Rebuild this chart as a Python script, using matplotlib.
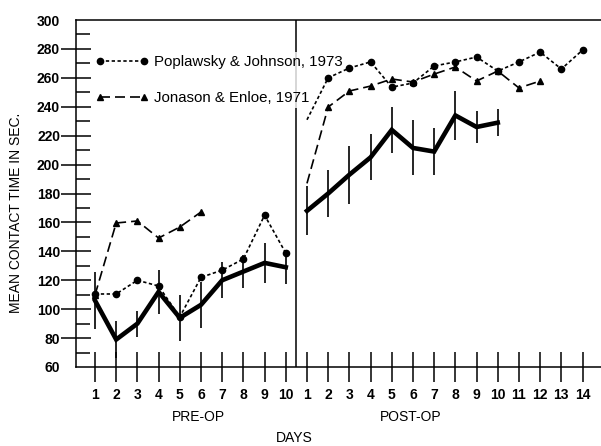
import matplotlib
matplotlib.use('Agg')
import matplotlib.pyplot as plt
from matplotlib.lines import Line2D
from matplotlib.ticker import MultipleLocator
import numpy as np

plt.rcParams['font.family'] = ['Liberation Sans', 'DejaVu Sans']

# jours (pré- et post-opératoires)
pre_days = list(range(1, 11))
post_days = list(range(1, 15))

# groupe principal (trait épais + barres d'erreur)
main_pre = [106, 79, 90, 112, 94, 103, 120, 126, 132, 129]
main_pre_err = [20, 13, 9, 15, 16, 16, 12.5, 11.5, 14, 11.5]
main_post = [168, 180, 193, 205, 224, 211.5, 209, 234, 226, 229]
main_post_err = [17, 16, 20, 16, 16, 19, 16, 17, 11, 9.5]

# Poplawsky & Johnson, 1973
poplawsky_pre = [110.5, 110.5, 120, 116, 94.6, 122, 127, 134.7, 165, 138.8]
poplawsky_post = [231, 260, 266.8, 271, 253.6, 256.4, 268.2, 271, 274.4,
                  264.7, 271, 277.8, 266.1, 279.2]

# Jonason & Enloe, 1971
jonason_pre = [109.8, 159.6, 161, 149.2, 156.8, 167.2]
jonason_post = [187, 239.8, 250.9, 254.3, 259.2, 257.1, 262.6, 267.5, 257.8,
                264.7, 253, 257.8]

tick_labels = [str(d) for d in pre_days] + [str(d) for d in post_days]

# positions continues sur l'axe x
x_pre = np.array(pre_days)
x_post = np.array(post_days) + len(pre_days)

fig = plt.figure(figsize=(6.01, 4.46), dpi=100)
ax = fig.add_axes([76 / 601, 1 - 367 / 446, 1 - 76 / 601, 347 / 446])

pop_style = dict(color='black', lw=1.2, dashes=(2, 1.5), marker='o', ms=4.5)
jon_style = dict(color='black', lw=1.2, dashes=(6, 3), marker='^', ms=3.8)

ax.plot(x_pre, poplawsky_pre, **pop_style, zorder=3)
ax.plot(x_post, poplawsky_post, markevery=slice(1, None), **pop_style, zorder=3)
ax.plot(x_pre[:len(jonason_pre)], jonason_pre, **jon_style, zorder=3)
ax.plot(x_post[:len(jonason_post)], jonason_post, markevery=slice(1, None),
        **jon_style, zorder=3)

# trait épais avec barres d'erreur
for xs, ys, es in [(x_pre, main_pre, main_pre_err),
                   (x_post[:len(main_post)], main_post, main_post_err)]:
    ax.errorbar(xs, ys, yerr=es, color='black', lw=3.3, elinewidth=1.2,
                capsize=0, solid_joinstyle='miter', zorder=4)

# séparation pré/post
ax.axvline(len(pre_days) + 0.5, color='black', lw=1.1, zorder=2)

ax.set_xlim(0.104, 24.87)
ax.set_ylim(60, 300)
ax.set_xticks(np.concatenate([x_pre, x_post]))
ax.set_xticklabels(tick_labels, fontweight='bold', fontsize=10)
ax.set_yticks(np.arange(60, 301, 20))
ax.set_yticklabels([str(v) for v in range(60, 301, 20)], fontweight='bold', fontsize=10)
ax.yaxis.set_minor_locator(MultipleLocator(10))

ax.tick_params(axis='x', direction='inout', length=22, width=1.1, pad=4)
ax.tick_params(axis='y', which='major', direction='inout', length=21, width=1.1, pad=1)
ax.tick_params(axis='y', which='minor', direction='in', length=10, width=1.1)
majors = ax.yaxis.get_major_ticks()
for t in (majors[0], majors[-1]):
    t.tick1line.set_visible(False)

ax.spines['right'].set_visible(False)
for s in ('left', 'top', 'bottom'):
    ax.spines[s].set_linewidth(1.1)

ax.set_ylabel('MEAN CONTACT TIME IN SEC.', fontsize=10)
ax.yaxis.set_label_coords(-0.101, 0.444)

fig.text(198 / 601, 1 - 417 / 446, 'PRE-OP', ha='center', va='center', fontsize=10)
fig.text(411 / 601, 1 - 417 / 446, 'POST-OP', ha='center', va='center', fontsize=10)
fig.text(294 / 601, 1 - 438 / 446, 'DAYS', ha='center', va='center', fontsize=10)

handles = [Line2D([], [], **pop_style), Line2D([], [], **jon_style)]
leg = ax.legend(handles, ['Poplawsky & Johnson, 1973', 'Jonason & Enloe, 1971'],
                loc='upper left', bbox_to_anchor=(0.032, 0.908), fontsize=10.8,
                handlelength=3.5, handletextpad=0.37, labelspacing=1.5,
                borderpad=0.2, borderaxespad=0, numpoints=2, frameon=True,
                fancybox=False)
leg.get_frame().set_facecolor('white')
leg.get_frame().set_edgecolor('none')
leg.set_zorder(2.5)

fig.savefig('out.png', dpi=100)
